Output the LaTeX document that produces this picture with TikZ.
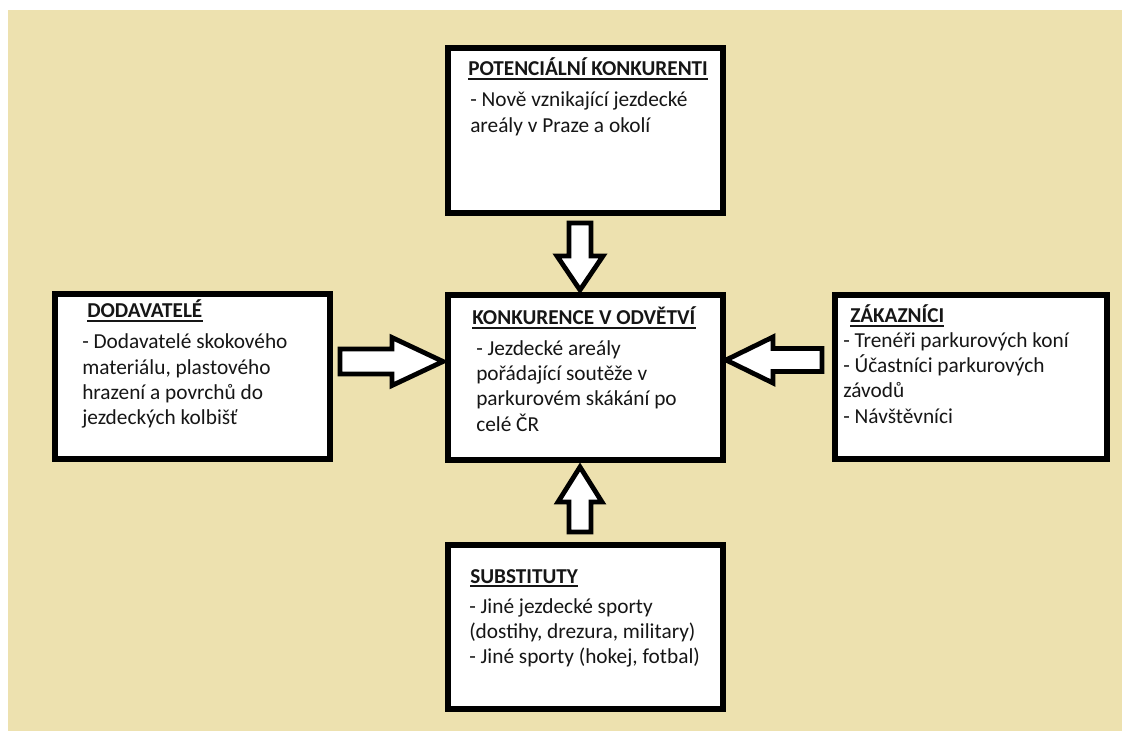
\documentclass[tikz,border=0pt]{standalone}
\usepackage{fontspec}
\setmainfont{Carlito}
\usetikzlibrary{fit,calc}
\definecolor{paper}{RGB}{237,225,175}
\definecolor{ink}{RGB}{22,22,22}

% Block arrow: tail coordinate, angle, total length, head length, shaft half-width, head half-width
\newcommand\blockarrow[6]{%
  \draw[blockarrowline, shift={(#1)}, rotate=#2]
    (0,-#5) -- ({#3-#4},-#5) -- ({#3-#4},-#6) -- (#3,0)
    -- ({#3-#4},#6) -- ({#3-#4},#5) -- (0,#5) -- cycle;}

% Underline drawn beneath a heading node
\newcommand\headrule[1]{%
  \draw[line width=1.5pt, ink] ($(#1.base west)+(0,3)$) -- ($(#1.base east)+(0,3)$);}

\begin{document}
\begin{tikzpicture}[x=0.75pt,y=-0.75pt,
  box/.style={draw=black, line width=4.5pt, fill=white, inner sep=0pt},
  heading/.style={anchor=base west, inner sep=0pt, text=ink,
    font=\fontsize{15.9}{19}\selectfont\bfseries},
  body/.style={anchor=base west, inner sep=0pt, text=ink,
    font=\fontsize{16}{19}\selectfont},
  blockarrowline/.style={draw=black, line width=3.6pt, fill=white}]

% canvas
\fill[white] (0,0) rectangle (1122,731);
\fill[paper] (8,10) rectangle (1122,731);
\useasboundingbox (0,0) rectangle (1122,731);

% boxes
\node[box, fit={(448,48) (723,213)}] (pot) {};
\node[box, fit={(448,295.5) (723,460)}] (ctr) {};
\node[box, fit={(55,294) (330,459)}] (sup) {};
\node[box, fit={(835,295) (1107,459)}] (cus) {};
\node[box, fit={(448,545) (723,709)}] (sub) {};

% potential competitors
\node[heading] (potH) at (468,76) {POTENCIÁLNÍ KONKURENTI};
\headrule{potH}
\node[body] (potB) at (470,107) {\begin{tabular}[t]{@{}l@{}}
- Nově vznikající jezdecké\\
areály v Praze a okolí\end{tabular}};

% competition in the sector
\node[heading] (ctrH) at (472,325) {KONKURENCE V ODVĚTVÍ};
\headrule{ctrH}
\node[body] (ctrB) at (476,355) {\begin{tabular}[t]{@{}l@{}}
- Jezdecké areály\\
pořádající soutěže v\\
parkurovém skákání po\\
celé ČR\end{tabular}};

% suppliers
\node[heading] (supH) at (87,318) {DODAVATELÉ};
\headrule{supH}
\node[body] (supB) at (82,349) {\begin{tabular}[t]{@{}l@{}}
- Dodavatelé skokového\\
materiálu, plastového\\
hrazení a povrchů do\\
jezdeckých kolbišť\end{tabular}};

% customers
\node[heading] (cusH) at (850,323) {ZÁKAZNÍCI};
\headrule{cusH}
\node[body] (cusB) at (843,347) {\begin{tabular}[t]{@{}l@{}}
- Trenéři parkurových koní\\
- Účastníci parkurových\\
závodů\\
- Návštěvníci\end{tabular}};

% substitutes
\node[heading] (subH) at (470,583) {SUBSTITUTY};
\headrule{subH}
\node[body] (subB) at (469,613) {\begin{tabular}[t]{@{}l@{}}
- Jiné jezdecké sporty\\
(dostihy, drezura, military)\\
- Jiné sporty (hokej, fotbal)\end{tabular}};

% arrow tails, placed from the boxes they leave
\coordinate (tailT) at ($(pot.south)+(-5.5,7)$);
\coordinate (tailL) at ($(sup.east)+(7,-15)$);
\coordinate (tailR) at ($(cus.west)+(-10,-17)$);
\coordinate (tailB) at ($(sub.north)+(-5.5,-10)$);

% block arrows into the central box
\blockarrow{tailT}{-90}{67}{34}{11}{23}
\blockarrow{tailL}{0}{103}{51}{12.5}{24}
\blockarrow{tailR}{180}{96}{47}{11.5}{23}
\blockarrow{tailB}{90}{65}{35}{11}{22}
\end{tikzpicture}
\end{document}
